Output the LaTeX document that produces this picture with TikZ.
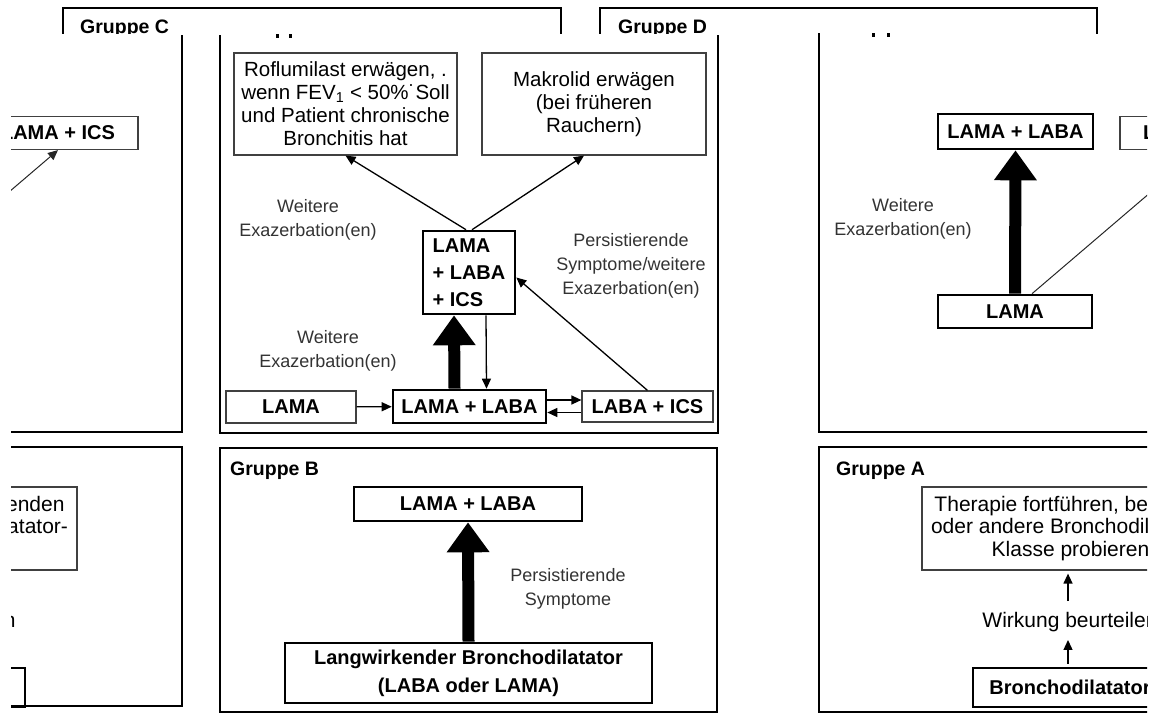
\documentclass[tikz,border=0pt]{standalone}
\usepackage{fontspec}
\setmainfont{Liberation Sans}
\usepackage{tikz}
\usetikzlibrary{arrows.meta}

\newcommand\setfs[2]{\fontsize{#1}{#2}\selectfont}

\begin{document}
\begin{tikzpicture}[
        x=1pt, y=-1pt,
        panel/.style={draw=black, line width=2.6pt},
        grp/.style={font=\bfseries\setfs{19.5}{22}, anchor=base west, inner sep=0pt},
        hint/.style={draw=black!75, line width=1.2pt, align=center, inner sep=0pt, font=\setfs{20.5}{23}},
        drug/.style={hint, font=\bfseries\setfs{20}{24}},
        pref/.style={draw=black, line width=2.6pt, align=center, inner sep=0pt, font=\bfseries\setfs{20}{27}},
        note/.style={align=center, text=black!80, font=\setfs{18}{24}},
        go/.style={-{Triangle[length=10pt,width=9pt]}, line width=1.3pt},
        fat/.style={-{Triangle[length=30pt,width=41pt]}, line width=12pt}
    ]

    \useasboundingbox (0,0) rectangle (1156,715);
    \clip (11,0) rectangle (1147,715);

    % ==========================================
    % Header strips (cut off at the bottom)
    % ==========================================
    \begin{scope}
        \clip (0,0) rectangle (1156,33.5);
        \draw[panel] (63,40) |- (561,8) -- (561,40);
        \draw[panel] (600,40) |- (1097,8) -- (1097,40);
        \node[grp] (hdr_c) at (80,33) {Gruppe C};
        \node[grp] (hdr_d) at (618,33) {Gruppe D};
    \end{scope}

    % ==========================================
    % Middle column, upper panel
    % ==========================================
    \draw[panel] (220,35) |- (718,433) -- (718,35);
    \fill (276,34) rectangle +(3,4);
    \fill (289,34) rectangle +(3,4);

    \node[hint, minimum width=223, minimum height=102] (rofl) at (345.5,104)
        {Roflumilast erwägen, .\\wenn FEV\textsubscript{1} < 50\%˙Soll\\und Patient chronische\\Bronchitis hat};
    \node[hint, minimum width=224, minimum height=102] (makro) at (594,104)
        {Makrolid erwägen\\(bei früheren\\Rauchern)};

    \node[pref, align=left, minimum width=92, minimum height=83] (triple) at (469,272.5) {LAMA\\+ LABA\\+ ICS};

    \node[drug, minimum width=130, minimum height=32] (d_lama) at (291,407) {LAMA};
    \node[pref, minimum width=153, minimum height=33] (d_lamalaba) at (469.5,406.5) {LAMA + LABA};
    \node[drug, minimum width=131, minimum height=31] (d_labaics) at (647.5,406.5) {LABA + ICS};

    \node[note] (n_weit1) at (308,220) {Weitere\\Exazerbation(en)};
    \node[note] (n_weit2) at (328,351) {Weitere\\Exazerbation(en)};
    \node[note] (n_pers) at (631,266) {Persistierende\\Symptome/weitere\\Exazerbation(en)};

    \draw[go] ([xshift=-3pt]triple.north) -- (rofl.south);
    \draw[go] ([xshift=3pt]triple.north) -- ([xshift=-10pt]makro.south);
    \draw[fat] ([xshift=-15pt]d_lamalaba.north) -- ([xshift=-15pt]triple.south);
    \draw[go] ([xshift=17pt]triple.south) -- ([xshift=17pt]d_lamalaba.north);
    \draw[go] (d_lama) -- (d_lamalaba);
    \draw[go] ([yshift=6.5pt]d_lamalaba.east) -- ([yshift=6.5pt]d_labaics.west);
    \draw[go] ([yshift=-6pt]d_labaics.west) -- ([yshift=-6pt]d_lamalaba.east);
    \draw[go] (d_labaics.north) -- ([yshift=-5pt]triple.east);

    % ==========================================
    % Middle column, Gruppe B
    % ==========================================
    \draw[panel] (220,448) rectangle (717,712);
    \node[grp] (hdr_b) at (230,475) {Gruppe B};

    \node[pref, minimum width=228, minimum height=34] (b_laba) at (468,504) {LAMA + LABA};
    \node[pref, font=\bfseries\setfs{20}{28}, minimum width=367, minimum height=60] (b_long) at (468.5,673)
        {Langwirkender Bronchodilatator\\(LABA oder LAMA)};
    \node[note] (n_persb) at (568,589) {Persistierende\\Symptome};

    \draw[fat] (b_long.north) -- (b_laba.south);

    % ==========================================
    % Right column: runs off the right edge and
    % comes back in on the left, so drawn twice
    % ==========================================
    \foreach \sh/\t/\bot in {0/r/712, -1142/l/706} {
        \begin{scope}[xshift=\sh]
            \draw[panel] (819,33) |- (1324,432) -- (1324,35);
            \fill (872,33) rectangle +(3,4);
            \fill (887,33) rectangle +(3,4);

            \node[pref, minimum width=155, minimum height=35] (r_laba\t) at (1015.5,131.5) {LAMA + LABA};
            \node[drug, minimum width=160, minimum height=33] (r_ics\t) at (1200,133) {LAMA + ICS};
            \node[pref, minimum width=154, minimum height=33] (r_lama\t) at (1015,311.5) {LAMA};
            \node[note] (n_weitr\t) at (903,219) {Weitere\\Exazerbation(en)};

            \draw[fat] (r_lama\t.north) -- (r_laba\t.south);
            \draw[go, line width=1pt, draw=black!85] ([xshift=17pt]r_lama\t.north) -- (r_ics\t.south);

            % Gruppe A
            \draw[panel] (819,447) rectangle (1324,\bot);
            \node[grp] (hdr_a\t) at (836,475) {Gruppe A};

            \node[hint, font=\setfs{21}{22.5}, minimum width=297, minimum height=83] (a_ther\t) at (1070.5,528.5)
                {Therapie fortführen, beenden\\oder andere Bronchodilatator-\\Klasse probieren};
            \node[font=\setfs{21}{23}, inner sep=6pt] (a_wirk\t) at (1070,622) {Wirkung beurteilen};
            \node[pref, minimum width=194, minimum height=39] (a_bron\t) at (1070,687.5) {Bronchodilatator};

            \draw[go, shorten <=5pt, shorten >=3pt] ([xshift=-2pt]a_wirk\t.north) -- ([xshift=-2pt]a_wirk\t.north |- a_ther\t.south);
            \draw[go, shorten <=3pt, shorten >=2pt] ([xshift=-2pt]a_wirk\t.south |- a_bron\t.north) -- ([xshift=-2pt]a_wirk\t.south);
        \end{scope}
    }

\end{tikzpicture}
\end{document}
